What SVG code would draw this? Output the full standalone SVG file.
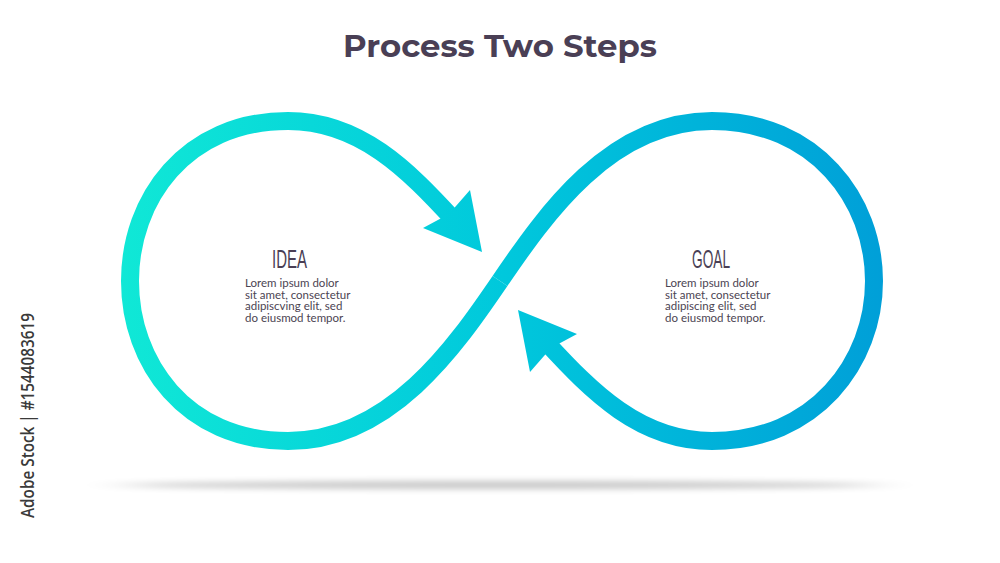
<svg xmlns="http://www.w3.org/2000/svg" width="1000" height="563" viewBox="0 0 1000 563">
  <defs>
    <linearGradient id="g" gradientUnits="userSpaceOnUse" x1="120" y1="0" x2="885" y2="0">
      <stop offset="0" stop-color="#10e8d6"/>
      <stop offset="0.5" stop-color="#00c8dc"/>
      <stop offset="1" stop-color="#009fd8"/>
    </linearGradient>
    <filter id="blur" x="-20%" y="-300%" width="140%" height="700%">
      <feGaussianBlur stdDeviation="25 3"/>
    </filter>
    <style>
      .title{font-family:"Montserrat","Open Sans","Liberation Sans",sans-serif;font-weight:700;font-size:30px;fill:#4a3f55}
      .head{font-family:"Liberation Sans Narrow","Liberation Sans",sans-serif;font-size:26px;fill:#4a3f55}
      .body{font-family:Lato,"Open Sans",sans-serif;font-size:11.5px;fill:#4b4452}
      .curve{fill:none;stroke:url(#g);stroke-width:18}
      .head-fill{fill:url(#g)}
      .wm{font-family:"Open Sans","Liberation Sans",sans-serif;font-weight:600;font-size:18px;fill:#3a3a3a}
    </style>
  </defs>
  <rect width="1000" height="563" fill="#ffffff"/>
  <ellipse cx="500" cy="485" rx="380" ry="4" fill="#000" opacity="0.22" filter="url(#blur)"/>
  <text class="title" x="500" y="57" text-anchor="middle" textLength="314" lengthAdjust="spacingAndGlyphs">Process Two Steps</text>
  <g id="connectors">
    <path class="curve" d="M 500,281 C 545,215 610,121 712,121 C 815,121 874,200 874,281 C 874,362 815,441 712,441 C 640,441 592,392 546,342"/>
    <path class="curve" d="M 500,281 C 455,347 390,441 288,441 C 185,441 130,362 130,281 C 130,200 185,121 288,121 C 360,121 408,170 454,220"/>
    <polygon class="head-fill" points="482,252 423,228 449,214 470,190"/>
    <polygon class="head-fill" points="518,310 577,334 551,348 530,372"/>
  </g>
  <g id="node-idea">
    <text class="head" x="272" y="268" textLength="35" lengthAdjust="spacingAndGlyphs">IDEA</text>
    <text class="body"><tspan x="245" y="287">Lorem ipsum dolor</tspan><tspan x="245" y="298.7">sit amet, consectetur</tspan><tspan x="245" y="310.4">adipiscving elit, sed</tspan><tspan x="245" y="322.1">do eiusmod tempor.</tspan></text>
  </g>
  <g id="node-goal">
    <text class="head" x="692" y="268" textLength="38" lengthAdjust="spacingAndGlyphs">GOAL</text>
    <text class="body"><tspan x="665" y="287">Lorem ipsum dolor</tspan><tspan x="665" y="298.7">sit amet, consectetur</tspan><tspan x="665" y="310.4">adipiscing elit, sed</tspan><tspan x="665" y="322.1">do eiusmod tempor.</tspan></text>
  </g>
  <text class="wm" transform="translate(34,415.5) rotate(-90)" text-anchor="middle" textLength="205" lengthAdjust="spacingAndGlyphs">Adobe Stock | #1544083619</text>
</svg>
